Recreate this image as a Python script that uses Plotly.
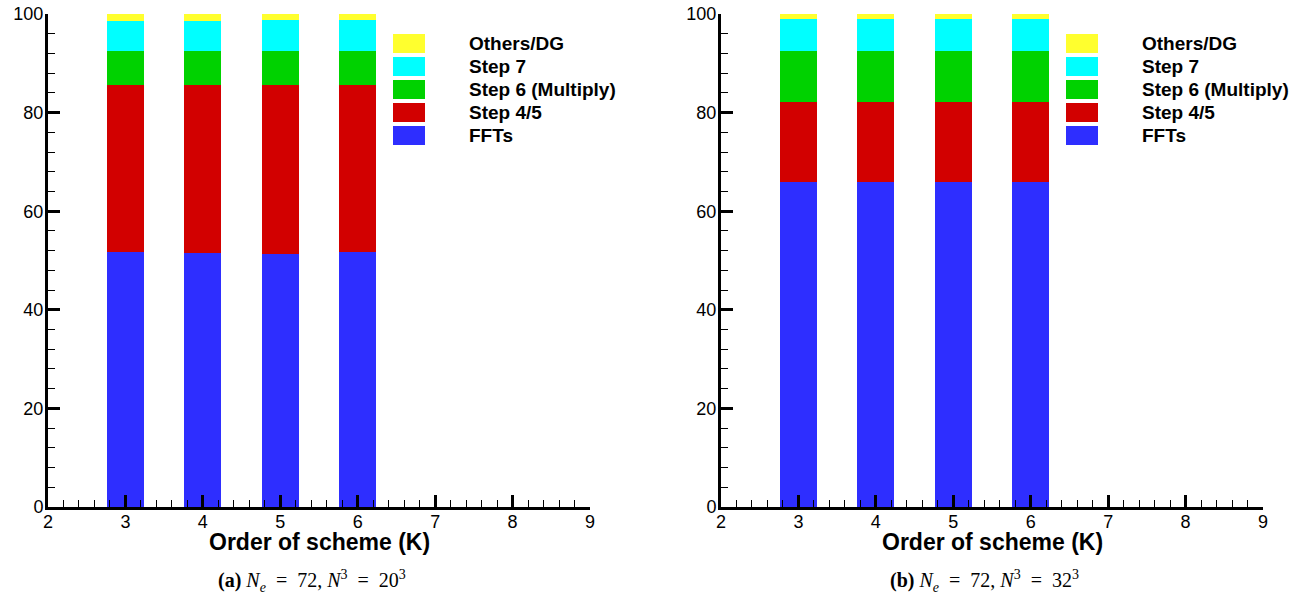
import plotly.graph_objects as go
from plotly.subplots import make_subplots

orders = [3, 4, 5, 6]
series_names = ["FFTs", "Step 4/5", "Step 6 (Multiply)", "Step 7", "Others/DG"]
colors = ["#2e2eff", "#d20000", "#00d200", "#00ffff", "#ffff2e"]

# Panel (a): Ne=72, N^3=20^3  (percent of time)
a_ffts = [51.8, 51.5, 51.3, 51.8]
a_step45 = [33.8, 34.1, 34.3, 33.8]
a_step6 = [6.9, 6.9, 6.9, 6.9]
a_step7 = [6.1, 6.1, 6.3, 6.3]
a_others = [1.4, 1.4, 1.2, 1.2]

# Panel (b): Ne=72, N^3=32^3
b_ffts = [66.0, 66.0, 66.0, 66.0]
b_step45 = [16.2, 16.2, 16.2, 16.2]
b_step6 = [10.3, 10.3, 10.3, 10.3]
b_step7 = [6.5, 6.5, 6.5, 6.5]
b_others = [1.0, 1.0, 1.0, 1.0]

EQ = "&nbsp;&nbsp;=&nbsp;&nbsp;"
captions = ["<b>(a)</b> <i>N<sub>e</sub></i>" + EQ + "72, <i>N</i><sup>3</sup>" + EQ + "20<sup>3</sup>",
            "<b>(b)</b> <i>N<sub>e</sub></i>" + EQ + "72, <i>N</i><sup>3</sup>" + EQ + "32<sup>3</sup>"]
x_title = "Order of scheme (K)"

panels = [[a_ffts, a_step45, a_step6, a_step7, a_others],
          [b_ffts, b_step45, b_step6, b_step7, b_others]]

W, H = 1307, 596
ml, mr, mt, mb = 48, 44, 14, 89
plot_w = W - ml - mr
gap_frac = (721 - 590) / plot_w

fig = make_subplots(rows=1, cols=2, horizontal_spacing=gap_frac)

for ci, pdata in enumerate(panels, start=1):
    for name, vals, col in zip(series_names, pdata, colors):
        fig.add_trace(go.Bar(x=orders, y=vals, name=name, marker_color=col,
                             marker_line_width=0, width=0.48, showlegend=False),
                      row=1, col=ci)

fig.update_layout(barmode="stack", width=W, height=H,
                  margin=dict(l=ml, r=mr, t=mt, b=mb, autoexpand=False),
                  plot_bgcolor="white", paper_bgcolor="white",
                  font=dict(family="Liberation Sans, Arial, sans-serif", color="black"))

for ci in (1, 2):
    fig.update_xaxes(range=[2, 9], tickvals=[2, 3, 4, 5, 6, 7, 8, 9],
                     ticks="inside", ticklen=12, tickwidth=2.8, tickcolor="black",
                     minor=dict(ticks="inside", dtick=0.2, ticklen=7, tickwidth=1.3, tickcolor="black"),
                     showline=True, linecolor="black", linewidth=3,
                     showgrid=False, zeroline=False, automargin=False,
                     tickfont=dict(size=18), ticklabelstandoff=-4,
                     row=1, col=ci)
    fig.update_yaxes(range=[0, 100], tickvals=[0, 20, 40, 60, 80, 100],
                     ticks="inside", ticklen=12, tickwidth=2.8, tickcolor="black",
                     minor=dict(ticks="inside", dtick=4, ticklen=7, tickwidth=1.3, tickcolor="black"),
                     showline=True, linecolor="black", linewidth=3,
                     showgrid=False, zeroline=False, automargin=False,
                     tickfont=dict(size=18), ticklabelstandoff=-2,
                     row=1, col=ci)

# Manual legends (large swatches), axis titles and captions, in axis-domain coordinates
for ci in (1, 2):
    xref = "x domain" if ci == 1 else "x2 domain"
    yref = "y domain" if ci == 1 else "y2 domain"
    sx0 = (393 - 48) / 542
    sx1 = (425 - 48) / 542
    tx = (467 - 48) / 542
    order = list(range(len(series_names)))[::-1]
    for row, si in enumerate(order):
        top_px = 34 + row * 23
        bot_px = top_px + 19
        y1 = (507 - top_px) / 493
        y0 = (507 - bot_px) / 493
        fig.add_shape(type="rect", xref=xref, yref=yref, x0=sx0, x1=sx1, y0=y0, y1=y1,
                      fillcolor=colors[si], line_width=0)
        fig.add_annotation(xref=xref, yref=yref, x=tx, y=(y0 + y1) / 2,
                           text="<b>" + series_names[si] + "</b>", showarrow=False,
                           xanchor="left", yanchor="middle", font=dict(size=19))
    fig.add_annotation(xref=xref, yref="paper", x=0.5, y=(507 - 542) / 493,
                       yanchor="middle", xanchor="center", text="<b>" + x_title + "</b>",
                       showarrow=False, font=dict(size=23))
    fig.add_annotation(xref=xref, yref="paper", x=(311.5 - 48) / 542, y=(507 - 581) / 493,
                       yanchor="middle", xanchor="center", text=captions[ci - 1], showarrow=False,
                       font=dict(family="Liberation Serif, Times New Roman, serif", size=20))

fig.write_html("out.html", config={"displayModeBar": False},
               post_script="document.body.style.margin='0px';")
